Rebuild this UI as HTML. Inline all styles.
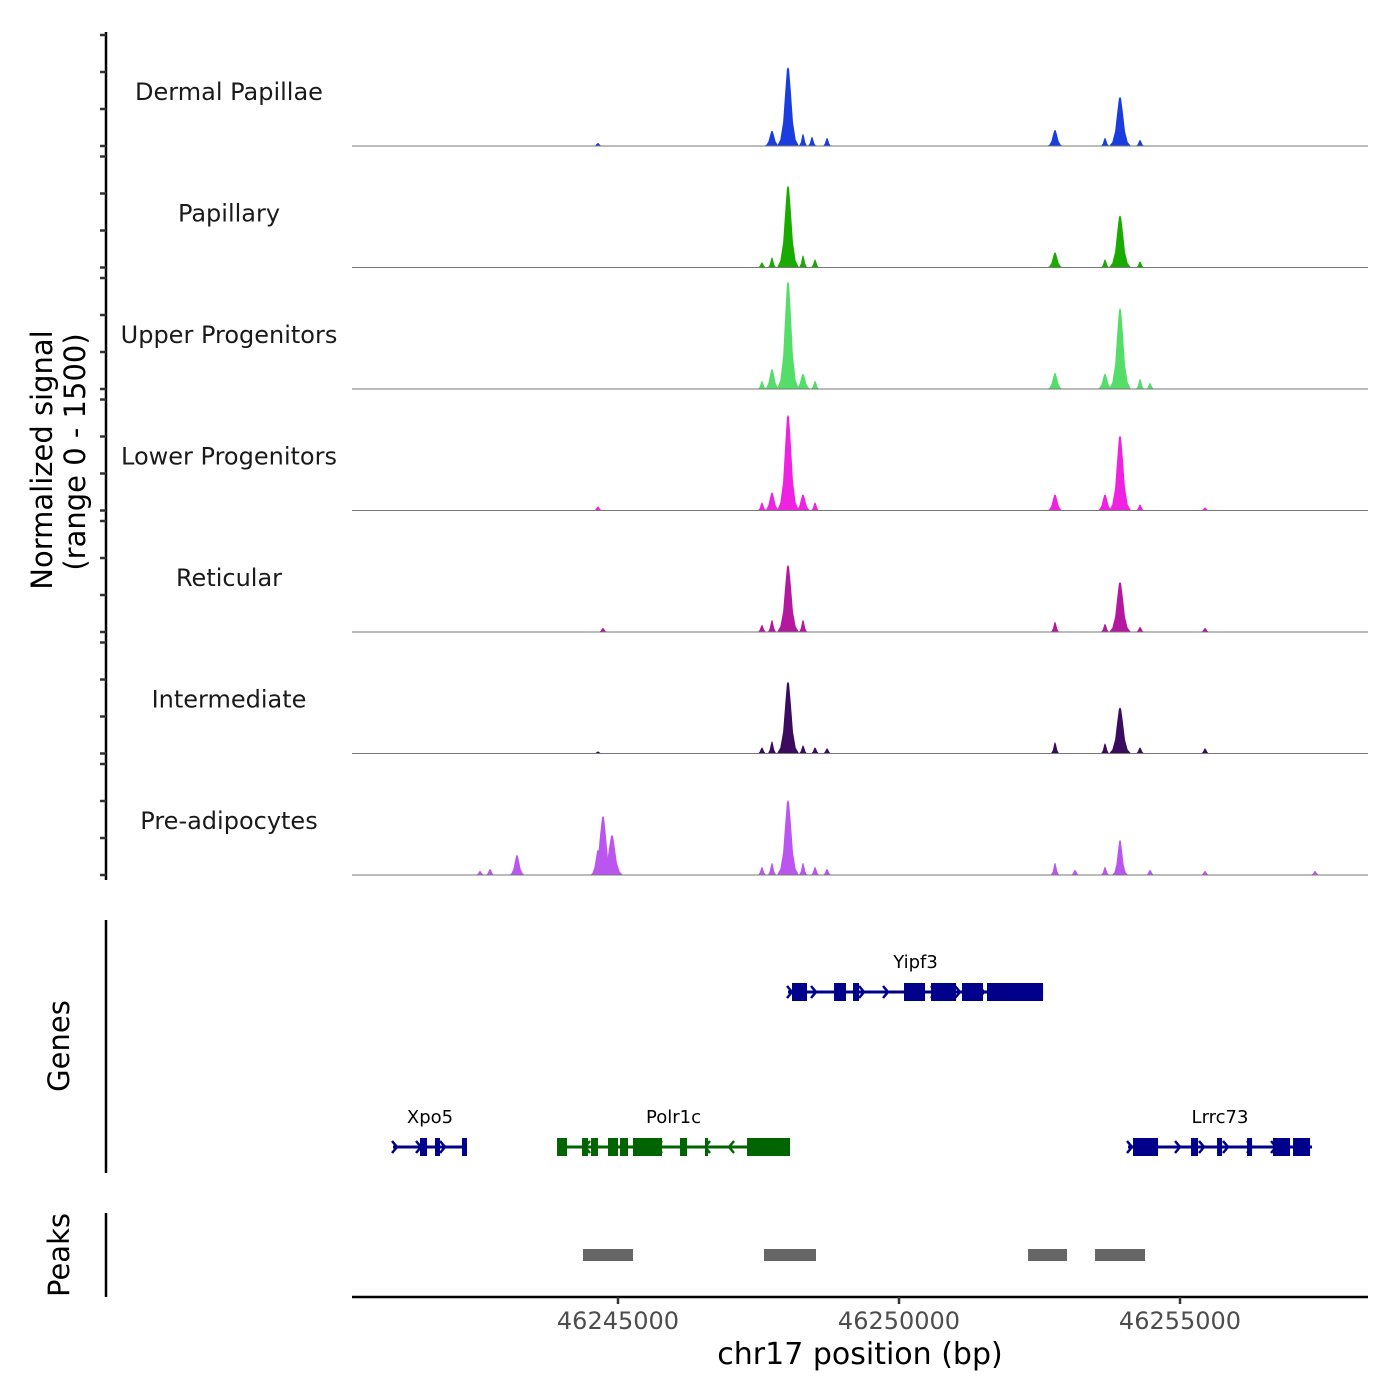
<!DOCTYPE html>
<html><head><meta charset="utf-8">
<style>
html,body{margin:0;padding:0;background:#fff;}
svg{display:block;font-family:"DejaVu Sans","Liberation Sans",sans-serif;}
</style></head>
<body>
<svg id="chart" width="1400" height="1400" viewBox="0 0 1400 1400" xmlns="http://www.w3.org/2000/svg">
<rect width="1400" height="1400" fill="#fff"/>
<g id="signal"></g>
<g id="genes"></g>
<g id="peaks"></g>
<g id="axes"></g>
<text transform="translate(52,460) rotate(-90)" text-anchor="middle" font-size="29" fill="#000">Normalized signal</text>
<text transform="translate(85,452) rotate(-90)" text-anchor="middle" font-size="29" fill="#000">(range 0 - 1500)</text>
<text transform="translate(69,1046) rotate(-90)" text-anchor="middle" font-size="29" fill="#000">Genes</text>
<text transform="translate(69,1255) rotate(-90)" text-anchor="middle" font-size="29" fill="#000">Peaks</text>
<text x="860" y="1364" text-anchor="middle" font-size="30" fill="#000">chr17 position (bp)</text>
</svg>
<script>
const trackNames = ["Dermal Papillae","Papillary","Upper Progenitors","Lower Progenitors","Reticular","Intermediate","Pre-adipocytes"];
const trackColors = ["#1a3de0","#1aab00","#55dd6a","#ee22e0","#b4189f","#3a0b5e","#bb55f0"];
const dpPos = [46248025,46247740,46248292,46248452,46248719,46252776,46253666,46253933,46254289,46244644];
const dpVal = [1067,203,162,122,108,216,108,662,81,40];
const papPos = [46248025,46247740,46247562,46248292,46248506,46252776,46253666,46253933,46254289];
const papVal = [1107,135,68,162,108,203,108,702,81];
const upPos = [46248025,46247740,46247562,46248292,46248506,46252776,46253666,46253933,46254289,46254467];
const upVal = [1458,270,108,203,108,216,203,1094,135,81];
const lpPos = [46248025,46247740,46247562,46248292,46248506,46252776,46253666,46253933,46254289,46244644,46255445];
const lpVal = [1296,243,108,216,108,216,216,1013,81,54,40];
const retPos = [46248025,46247740,46247562,46248292,46252776,46253666,46253933,46254289,46244733,46255445];
const retVal = [905,162,95,162,135,108,675,68,54,54];
const intPos = [46248025,46247740,46247562,46248292,46248506,46248719,46252776,46253666,46253933,46254289,46255445,46244644];
const intVal = [972,162,81,108,81,68,149,135,621,81,68,27];
const prePos = [46248025,46247740,46247562,46248292,46248506,46248719,46244733,46244893,46244644,46243203,46242723,46242545,46252776,46253132,46253666,46253933,46254467,46257402,46255445];
const preVal = [1013,162,108,162,108,81,797,540,338,270,81,54,162,68,108,473,68,54,54];
const trackPos = [dpPos,papPos,upPos,lpPos,retPos,intPos,prePos];
const trackVal = [dpVal,papVal,upVal,lpVal,retVal,intVal,preVal];

const xTicks = [46245000,46250000,46255000];
const xTickLabels = ["46245000","46250000","46255000"];
const yTicks = [0,500,1000,1500];

const geneNames = ["Yipf3","Xpo5","Polr1c","Lrrc73"];
const geneRow = [0,1,1,1];
const geneStrand = [1,1,-1,1];
const geneColors = ["#00008b","#00008b","#006400","#00008b"];
const geneStart = [46248025,46240997,46243915,46254075];
const geneEnd = [46252563,46242313,46248061,46257349];
const geneExonStarts = [
 [46248096,46248844,46249182,46250089,46250570,46251121,46251566],
 [46241477,46241744,46242224],
 [46243915,46244360,46244520,46244822,46245036,46245267,46246103,46246548,46247296],
 [46254164,46255196,46255659,46256193,46256655,46257011]];
const geneExonEnds = [
 [46248363,46249057,46249289,46250463,46251015,46251495,46252563],
 [46241602,46241833,46242313],
 [46244093,46244466,46244644,46245000,46245178,46245783,46246228,46246602,46248061],
 [46254609,46255321,46255748,46256282,46256958,46257314]];

const peakStart = [46244377,46247598,46252296,46253488];
const peakEnd = [46245267,46248523,46252990,46254378];

const NS="http://www.w3.org/2000/svg";
const X0=352, X1=1368, BP0=46240267, BP1=46258345;
function xs(bp){return X0+(bp-BP0)/(BP1-BP0)*(X1-X0);}
const trackH=121.5, firstBase=146, yScale=111/1500;
function base(i){return firstBase+i*trackH;}
function mk(tag,attrs,parent){const e=document.createElementNS(NS,tag);for(const k in attrs)e.setAttribute(k,attrs[k]);parent.appendChild(e);return e;}

const sig=document.getElementById('signal');
trackNames.forEach((nm,i)=>{
  const g=mk('g',{},sig);
  
  
  const b=base(i);
  const pos=trackPos[i], val=trackVal[i];
  pos.forEach((p,j)=>{
    const h=val[j]*yScale, c=xs(p);
    const w=val[j]>500?11:(val[j]>200?8:5);
    const pts=[[c-w,0],[c-0.7*w,0.08*h],[c-0.45*w,0.3*h],[c-0.25*w,0.7*h],[c-0.1*w,0.97*h],[c,h],[c+0.1*w,0.97*h],[c+0.25*w,0.7*h],[c+0.45*w,0.3*h],[c+0.7*w,0.08*h],[c+w,0]];
    const poly=mk('polygon',{points:pts.map(q=>q[0].toFixed(1)+','+(b-q[1]).toFixed(1)).join(' '),fill:trackColors[i]},g);
    
    
  });
  const ln=mk('line',{x1:X0,x2:X1,y1:b,y2:b,stroke:'#777','stroke-width':1},g);
  
  
  const t=mk('text',{x:229,y:b-46,'text-anchor':'middle','font-size':24,fill:'#1a1a1a'},g);
  t.textContent=nm;
  
  
});

const gg=document.getElementById('genes');
const rowY=[992,1147];
geneNames.forEach((nm,i)=>{
  const g=mk('g',{},gg);
  
  
  const y=rowY[geneRow[i]], col=geneColors[i];
  const a=xs(geneStart[i]), z=xs(geneEnd[i]);
  mk('line',{x1:a,x2:z,y1:y,y2:y,stroke:col,'stroke-width':3},g);
  for(let x=a+4;x<z;x+=24){
    const d=geneStrand[i]*5;
    mk('polyline',{points:`${x-d},${y-6} ${x},${y} ${x-d},${y+6}`,fill:'none',stroke:col,'stroke-width':2.5},g);
  }
  geneExonStarts[i].forEach((s,j)=>{
    const r=mk('rect',{x:xs(s),y:y-9,width:Math.max(2,xs(geneExonEnds[i][j])-xs(s)),height:18,fill:col},g);
    
    
  });
  const t=mk('text',{x:(a+z)/2,y:y-24,'text-anchor':'middle','font-size':18,fill:'#000'},g);
  t.textContent=nm;
  
  
});

const pg=document.getElementById('peaks');
peakStart.forEach((s,i)=>{
  const r=mk('rect',{x:xs(s),y:1249,width:xs(peakEnd[i])-xs(s),height:12,fill:'#666'},pg);
  
  
});

const ax=document.getElementById('axes');
[[32,880],[920,1173],[1213,1297]].forEach((r,i)=>{
  const l=mk('line',{x1:106,x2:106,y1:r[0],y2:r[1],stroke:'#000','stroke-width':2.5},ax);
  
  
});
trackNames.forEach((nm,i)=>{
  yTicks.forEach(v=>{
    const y=base(i)-v*yScale;
    mk('line',{x1:100,x2:106,y1:y,y2:y,stroke:'#333','stroke-width':2.5},ax);
  });
});
const xl=mk('line',{x1:X0,x2:X1,y1:1297,y2:1297,stroke:'#000','stroke-width':2.5},ax);


xTicks.forEach((v,i)=>{
  const x=xs(v);
  mk('line',{x1:x,x2:x,y1:1297,y2:1304,stroke:'#333','stroke-width':2.5},ax);
  const t=mk('text',{x:x,y:1329,'text-anchor':'middle','font-size':24,fill:'#4d4d4d'},ax);
  t.textContent=xTickLabels[i];
  
  
});
</script>
</body></html>
